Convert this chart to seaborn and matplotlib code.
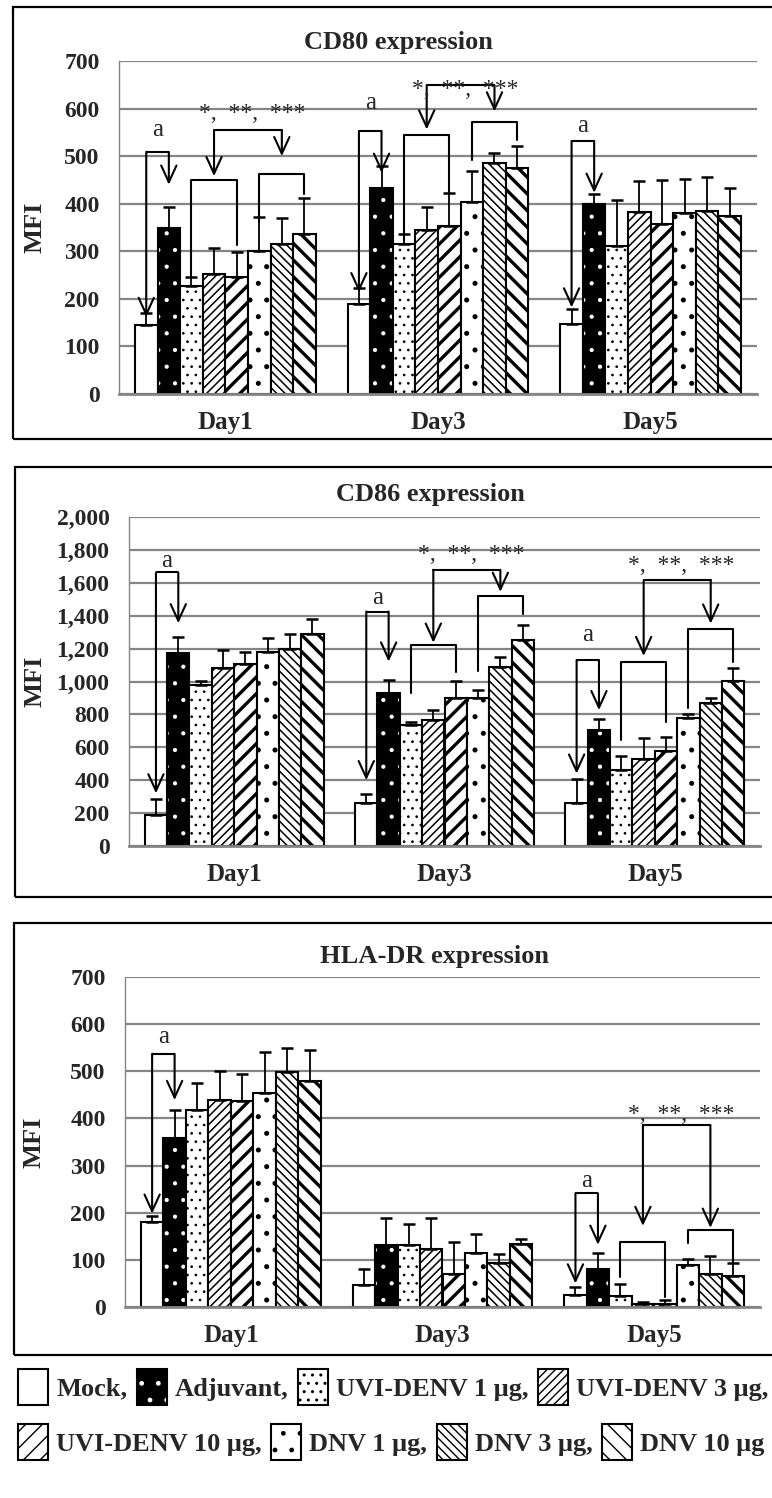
import numpy as np
import pandas as pd
import matplotlib
matplotlib.use("Agg")
import matplotlib.pyplot as plt
import matplotlib.colors as mcolors
from matplotlib.patches import Rectangle
from matplotlib.ticker import FuncFormatter
import seaborn as sns

# ---------------- data ----------------
days = ["Day1", "Day3", "Day5"]
groups = ["Mock", "Adjuvant", "UVI-DENV 1 μg", "UVI-DENV 3 μg", "UVI-DENV 10 μg",
          "DNV 1 μg", "DNV 3 μg", "DNV 10 μg"]
legend_row1 = ["Mock,", "Adjuvant,", "UVI-DENV 1 μg,", "UVI-DENV 3 μg,"]
legend_row2 = ["UVI-DENV 10 μg,", "DNV 1 μg,", "DNV 3 μg,", "DNV 10 μg"]

# mean MFI per day (rows) and group (columns)
cd80_mean = [[145, 348, 226, 252, 245, 301, 315, 337],
             [190, 432, 316, 344, 353, 404, 486, 475],
             [148, 399, 311, 383, 358, 381, 384, 374]]
cd80_sd = [[25, 45, 19, 54, 54, 72, 56, 76],
           [32, 48, 21, 49, 70, 65, 21, 47],
           [30, 22, 96, 65, 91, 72, 72, 58]]

cd86_mean = [[191, 1175, 976, 1084, 1104, 1181, 1198, 1289],
             [262, 928, 735, 765, 897, 897, 1086, 1252],
             [264, 704, 461, 526, 579, 780, 871, 1003]]
cd86_sd = [[93, 96, 27, 108, 77, 82, 91, 89],
           [57, 81, 20, 61, 106, 51, 61, 92],
           [146, 65, 87, 132, 85, 22, 28, 77]]

hla_mean = [[181, 358, 418, 439, 437, 453, 499, 480],
            [46, 132, 132, 122, 69, 115, 94, 133],
            [25, 80, 23, 7, 7, 89, 71, 65]]
hla_sd = [[12, 59, 58, 62, 58, 88, 50, 66],
          [35, 56, 45, 67, 68, 39, 18, 12],
          [17, 35, 25, 4, 7, 13, 37, 29]]

titles = ["CD80 expression", "CD86 expression", "HLA-DR expression"]
yticks_cd80 = [0, 100, 200, 300, 400, 500, 600, 700]
yticks_cd86 = [0, 200, 400, 600, 800, 1000, 1200, 1400, 1600, 1800, 2000]
yticks_hla = [0, 100, 200, 300, 400, 500, 600, 700]

# significance annotations (data units)
# 'a' brackets: (day, y_line, tip_mock, tip_adjuvant, y_label)
a_cd80 = [(0, 509, 162, 440, 556), (1, 553, 214, 465, 612), (2, 532, 182, 423, 563)]
a_cd86 = [(0, 1663, 320, 1354, 1735), (1, 1425, 400, 1121, 1505), (2, 1131, 440, 826, 1282)]
a_hla = [(0, 537, 198, 439, 572), (2, 241, 50, 132, 268)]
# brackets: (day, first hue, last hue, y_line, end_first, end_last)
br_cd80 = [(0, 2, 4, 449, 246, 313), (0, 5, 7, 463, 362, 421),
           (1, 2, 4, 545, 323, 425), (1, 5, 7, 572, 491, 533)]
br_cd86 = [(1, 2, 4, 1222, 928, 1060), (1, 5, 7, 1520, 1066, 1411),
           (2, 2, 4, 1117, 644, 755), (2, 5, 7, 1318, 836, 1121)]
br_hla = [(2, 2, 4, 138, 64, 21), (2, 5, 7, 163, 135, 96)]
# stars: (day, y_line, tip_left, tip_right, y_text_baseline)
st_cd80 = [(0, 554, 458, 500, 579), (1, 649, 556, 594, 628)]
st_cd86 = [(1, 1679, 1236, 1545, 1740), (2, 1614, 1155, 1352, 1669)]
st_hla = [(2, 386, 172, 168, 397)]

# ---------------- style ----------------
sns.set_style("white")
plt.rcParams["font.family"] = ["Liberation Serif", "DejaVu Serif"]
plt.rcParams["font.weight"] = "bold"
plt.rcParams["hatch.linewidth"] = 1.0

W, H = 772, 1498
fig = plt.figure(figsize=(W / 100, H / 100), dpi=100)
fig.patch.set_facecolor("white")


def frac(l, r, t, b):
    return [l / W, 1 - b / H, (r - l) / W, (b - t) / H]


panel_axes = [frac(119, 757, 61, 394), frac(129, 760, 517, 846), frac(125, 760, 977, 1307)]
panel_frames = [(13, 7, 439), (15, 467, 897), (14, 923, 1355)]
title_pos = [(398, 42), (430, 495), (434, 957)]
mfi_x = [35, 35, 34]

face = ["white", "black", "white", "white", "white", "white", "white", "white"]
hatches = ["", ".", "..", "////", "//", ".", "\\\\\\\\", "\\\\"]
hatch_lw = [1.0, 0.6, 0.7, 1.1, 2.4, 1.2, 1.1, 2.4]

panels = [
    (cd80_mean, cd80_sd, yticks_cd80, a_cd80, br_cd80, st_cd80, False),
    (cd86_mean, cd86_sd, yticks_cd86, a_cd86, br_cd86, st_cd86, True),
    (hla_mean, hla_sd, yticks_hla, a_hla, br_hla, st_hla, False),
]

LW = 1.5


def arrow_down(ax, x, ytop, ytip):
    ax.annotate("", xy=(x, ytip), xytext=(x, ytop),
                arrowprops=dict(arrowstyle="->,head_length=1.2,head_width=0.55",
                                lw=LW, color="black", shrinkA=0, shrinkB=0),
                annotation_clip=False, zorder=6)


legend_handles = None
for pi, (mean, sd, yt, a_sp, br_sp, st_sp, comma) in enumerate(panels):
    ax = fig.add_axes(panel_axes[pi])
    rows = []
    for di, d in enumerate(days):
        for gi, g in enumerate(groups):
            rows.append({"Day": d, "Group": g, "MFI": mean[di][gi]})
    df = pd.DataFrame(rows)
    sns.barplot(data=df, x="Day", y="MFI", hue="Group", order=days, hue_order=groups,
                palette=face, saturation=1, width=0.85, errorbar=None,
                edgecolor="black", linewidth=LW, legend=False, ax=ax, zorder=2)

    bars = [p for p in ax.patches if isinstance(p, Rectangle) and p.get_width() > 0]
    bars.sort(key=lambda p: p.get_x() + p.get_width() / 2)
    centers = np.zeros((3, 8))
    bar_grid = [[None] * 8 for _ in range(3)]
    for k, bar in enumerate(bars[:24]):
        di, gi = divmod(k, 8)
        bar_grid[di][gi] = bar
        bar.set_hatch(hatches[gi])
        if gi == 1:
            bar._hatch_color = mcolors.to_rgba("white")
        try:
            bar.set_hatch_linewidth(hatch_lw[gi])
        except AttributeError:
            bar._hatch_linewidth = hatch_lw[gi]
        centers[di, gi] = bar.get_x() + bar.get_width() / 2
    for gi in range(8):
        up = np.array([sd[di][gi] for di in range(3)])
        ax.errorbar(centers[:, gi], [mean[di][gi] for di in range(3)],
                    yerr=[np.zeros(3), up], fmt="none", ecolor="black",
                    elinewidth=1.3, capsize=4.5, capthick=1.8, zorder=3)
    if pi == 0:
        legend_handles = [bar_grid[0][gi] for gi in range(8)]

    ax.set_xlim(-0.5, 2.5)
    ax.set_ylim(yt[0], yt[-1])
    ax.set_yticks(yt)
    if comma:
        ax.yaxis.set_major_formatter(FuncFormatter(lambda v, p: f"{int(v):,}"))
    ax.set_axisbelow(True)
    ax.yaxis.grid(True, color="#858585", lw=1.6)
    ax.xaxis.grid(False)
    for s in ["top", "right"]:
        ax.spines[s].set_visible(False)
    ax.spines["left"].set_color("#858585")
    ax.spines["left"].set_linewidth(1.0)
    ax.spines["bottom"].set_color("#858585")
    ax.spines["bottom"].set_linewidth(2.0)
    ax.tick_params(axis="y", length=0, pad=14, labelsize=17)
    ax.tick_params(axis="x", length=0, pad=12, labelsize=18)
    for lab in ax.get_xticklabels() + ax.get_yticklabels():
        lab.set_fontweight("bold")
    ax.set_xlabel("")
    ax.set_ylabel("MFI", fontsize=19, fontweight="bold", va="center")
    l = panel_axes[pi][0] * W
    ax.yaxis.set_label_coords((mfi_x[pi] - l) / (panel_axes[pi][2] * W), 0.5)
    ax.set_facecolor("white")

    # annotations
    for (d, h, t0, t1, yl) in a_sp:
        c0, c1 = centers[d, 0], centers[d, 1]
        ax.plot([c0, c1], [h, h], color="black", lw=LW, zorder=6, solid_capstyle="butt")
        arrow_down(ax, c0, h, t0)
        arrow_down(ax, c1, h, t1)
        ax.text((c0 + c1) / 2, yl, "a", ha="center", va="center", fontsize=18,
                fontweight="normal", zorder=7)
    for (d, g0, g1, h, e0, e1) in br_sp:
        c0, c1 = centers[d, g0], centers[d, g1]
        ax.plot([c0, c0, c1, c1], [e0, h, h, e1], color="black", lw=LW, zorder=6)
    for (d, h, tl, tr, yb) in st_sp:
        xl = (centers[d, 2] + centers[d, 4]) / 2
        xr = (centers[d, 5] + centers[d, 7]) / 2
        ax.plot([xl, xr], [h, h], color="black", lw=LW, zorder=6)
        arrow_down(ax, xl, h, tl)
        arrow_down(ax, xr, h, tr)
        ax.text((xl + xr) / 2 + 0.02, yb, "*,  **,  ***", ha="center", va="baseline",
                fontsize=17, fontweight="normal", zorder=7)

    # title and panel frame
    tx, ty = title_pos[pi]
    fig.text(tx / W, 1 - ty / H, titles[pi], ha="center", va="center",
             fontsize=19, fontweight="bold")
    fl, ft, fb = panel_frames[pi]
    fig.add_artist(Rectangle((fl / W, 1 - fb / H), 1.2, (fb - ft) / H,
                             transform=fig.transFigure, fill=False,
                             ec="black", lw=1.6, zorder=0))

# legend rows
leg_kw = dict(loc="center left", ncol=4, frameon=False, fontsize=19,
              handlelength=1.15, handleheight=1.7, handletextpad=0.3,
              columnspacing=0.35, borderpad=0, borderaxespad=0)
leg1 = fig.legend(legend_handles[:4], legend_row1,
                  bbox_to_anchor=(18 / W, 1 - 1387 / H), **leg_kw)
leg2 = fig.legend(legend_handles[4:], legend_row2,
                  bbox_to_anchor=(18 / W, 1 - 1442 / H), **leg_kw)
for lg in (leg1, leg2):
    for t in lg.get_texts():
        t.set_fontweight("bold")

fig.savefig("out.png", dpi=100, facecolor="white")
